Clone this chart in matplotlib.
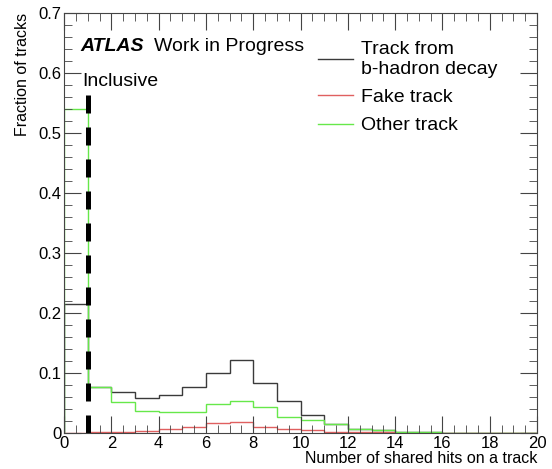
import numpy as np
import matplotlib.pyplot as plt
from matplotlib.ticker import MultipleLocator

plt.rcParams["font.family"] = ["Liberation Sans", "DejaVu Sans"]

edges = np.arange(0, 21, 1)
bhadron = [0.215, 0.077, 0.069, 0.058, 0.063, 0.076, 0.100, 0.122, 0.084, 0.053,
           0.029, 0.014, 0.007, 0.004, 0.002, 0.001, 0.0005, 0.0, 0.0, 0.0]
fake = [0.0, 0.001, 0.002, 0.003, 0.006, 0.0095, 0.016, 0.018, 0.0095, 0.006,
        0.004, 0.002, 0.001, 0.001, 0.0005, 0.0, 0.0, 0.0, 0.0, 0.0]
other = [0.54, 0.077, 0.052, 0.037, 0.035, 0.035, 0.048, 0.054, 0.043, 0.027,
         0.022, 0.014, 0.007, 0.004, 0.002, 0.001, 0.0005, 0.0, 0.0, 0.0]
cut_value = 1
cut_top = 0.563

fig = plt.figure(figsize=(5.52, 4.69), dpi=100)
ax = fig.add_axes([0.116, 0.077, 0.857, 0.895])

ax.stairs(bhadron, edges, color="#3a3a3a", lw=1.0, label="Track from\nb-hadron decay")
ax.stairs(fake, edges, color="#e06060", lw=1.0, label="Fake track")
ax.stairs(other, edges, color="#66e84a", lw=1.0, label="Other track")
# cut line, drawn top-down so the dash pattern starts at the top
ax.plot([cut_value, cut_value], [cut_top, 0], color="black", lw=3.6,
        linestyle=(0, (3.6, 2.8)), solid_capstyle="butt", dash_capstyle="butt")

ax.set_xlim(0, 20)
ax.set_ylim(0, 0.7)
ax.xaxis.set_major_locator(MultipleLocator(2))
ax.xaxis.set_minor_locator(MultipleLocator(0.5))
ax.yaxis.set_major_locator(MultipleLocator(0.1))
ax.yaxis.set_minor_locator(MultipleLocator(0.02))
ax.tick_params(which="both", direction="in", top=True, right=True, labelsize=12,
               color="#444444", pad=2)
ax.tick_params(which="major", length=12)
ax.tick_params(which="minor", length=6)
ax.set_yticks(np.arange(0, 0.71, 0.1))
ax.set_yticklabels(["0", "0.1", "0.2", "0.3", "0.4", "0.5", "0.6", "0.7"])
for s in ax.spines.values():
    s.set_color("#444444")

ax.set_xlabel("Number of shared hits on a track", fontsize=11.5, loc="right", labelpad=0)
ax.set_ylabel("Fraction of tracks", fontsize=11.5, loc="top", labelpad=6)

ax.text(0.035, 0.92, "ATLAS", transform=ax.transAxes, fontsize=14, va="center",
        fontweight="bold", fontstyle="italic")
ax.text(0.19, 0.92, "Work in Progress", transform=ax.transAxes, fontsize=14, va="center")
ax.text(0.038, 0.838, "Inclusive", transform=ax.transAxes, fontsize=14, va="center")

ax.legend(loc="upper left", bbox_to_anchor=(0.5, 0.975), frameon=False, fontsize=14,
          handlelength=1.8, labelspacing=0.55, handletextpad=0.4)

fig.savefig("out.png")
